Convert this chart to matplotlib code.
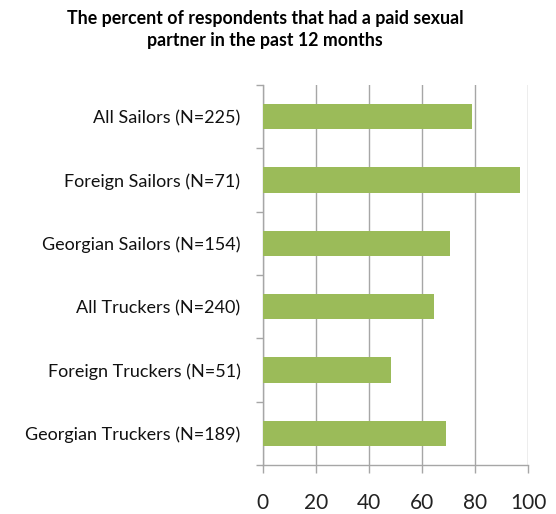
import matplotlib
matplotlib.use("Agg")
import matplotlib.pyplot as plt
import numpy as np

plt.rcParams['font.family'] = ['Lato', 'DejaVu Sans']

groups = ["All Sailors (N=225)", "Foreign Sailors (N=71)", "Georgian Sailors (N=154)",
          "All Truckers (N=240)", "Foreign Truckers (N=51)", "Georgian Truckers (N=189)"]
percent = [79, 97, 70.6, 64.4, 48.2, 69.1]
xticks = [0, 20, 40, 60, 80, 100]
title = "The percent of respondents that had a paid sexual\npartner in the past 12 months"

bar_color = "#9BBB59"
grid_color = "#A6A6A6"


def main():
    fig = plt.figure(figsize=(5.56, 5.14), dpi=100)
    ax = fig.add_axes([0.4725, 0.0953, 0.4771, 0.7393])

    y = np.arange(len(groups))
    ax.barh(y, percent, height=0.4, color=bar_color, zorder=3)

    ax.set_xlim(0, 100)
    ax.set_ylim(len(groups) - 0.5, -0.5)
    ax.set_xticks(xticks)
    ax.set_xticklabels([str(t) for t in xticks], fontsize=15, color="#222222")
    ax.set_yticks(y)
    ax.set_yticklabels(groups, fontsize=13, color="#111111")
    ax.set_yticks(np.arange(len(groups) + 1) - 0.5, minor=True)

    ax.tick_params(axis='y', which='major', length=0, pad=16)
    ax.tick_params(axis='y', which='minor', length=5, color=grid_color, width=1)
    ax.tick_params(axis='x', length=6, color=grid_color, width=1, pad=14)

    ax.grid(axis='x', color=grid_color, linewidth=1, zorder=0)
    for s in ['top', 'right']:
        ax.spines[s].set_visible(False)
    for s in ['left', 'bottom']:
        ax.spines[s].set_color(grid_color)
        ax.spines[s].set_linewidth(1)

    fig.text(0.477, 0.942, title, ha='center', va='center', fontsize=12.8,
             fontweight='bold', linespacing=1.35)

    fig.savefig("out.png", dpi=100)


if __name__ == '__main__':
    main()
